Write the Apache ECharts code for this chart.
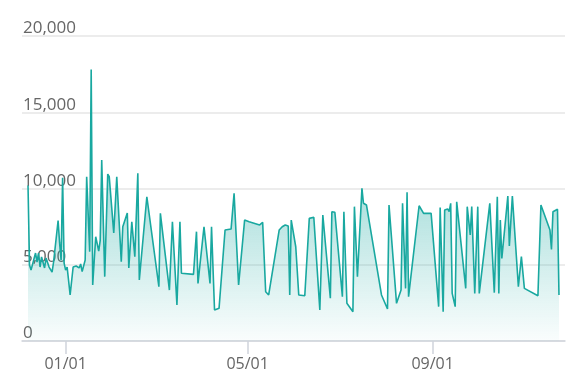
<!DOCTYPE html>
<html>
<head>
<meta charset="utf-8">
<script src="https://cdn.jsdelivr.net/npm/echarts@6/dist/echarts.min.js"></script>
<style>html,body{margin:0;padding:0;background:#fff;}#chart{width:581px;height:392px;}</style>
</head>
<body>
<div id="chart"></div>
<script>
const dates = [
  '2019-12-07','2019-12-08','2019-12-09','2019-12-10','2019-12-12','2019-12-13','2019-12-14','2019-12-15','2019-12-16','2019-12-18',
  '2019-12-19','2019-12-21','2019-12-23','2019-12-24','2019-12-27','2019-12-28','2019-12-29','2019-12-30','2019-12-31',
  '2020-01-01','2020-01-02','2020-01-04','2020-01-06','2020-01-07','2020-01-08','2020-01-10','2020-01-11','2020-01-12','2020-01-14',
  '2020-01-15','2020-01-17','2020-01-18','2020-01-19','2020-01-21','2020-01-23','2020-01-24','2020-01-25','2020-01-27','2020-01-29','2020-01-30',
  '2020-02-02','2020-02-04','2020-02-07','2020-02-08','2020-02-11','2020-02-12','2020-02-14','2020-02-16','2020-02-18','2020-02-19','2020-02-24',
  '2020-03-03','2020-03-04','2020-03-10','2020-03-12','2020-03-15','2020-03-17','2020-03-18','2020-03-26','2020-03-28','2020-03-29',
  '2020-04-02','2020-04-06','2020-04-07','2020-04-09','2020-04-12','2020-04-16','2020-04-20','2020-04-22','2020-04-25','2020-04-29',
  '2020-05-02','2020-05-09','2020-05-11','2020-05-13','2020-05-15','2020-05-22','2020-05-24','2020-05-26','2020-05-28','2020-05-29','2020-05-30',
  '2020-06-02','2020-06-04','2020-06-08','2020-06-11','2020-06-14','2020-06-18','2020-06-20','2020-06-25','2020-06-26','2020-06-28',
  '2020-07-03','2020-07-04','2020-07-06','2020-07-10','2020-07-11','2020-07-13','2020-07-16','2020-07-17','2020-07-19','2020-07-29',
  '2020-08-02','2020-08-03','2020-08-08','2020-08-11','2020-08-12','2020-08-14','2020-08-15','2020-08-16','2020-08-23','2020-08-26','2020-08-31',
  '2020-09-05','2020-09-06','2020-09-08','2020-09-09','2020-09-11','2020-09-12','2020-09-13','2020-09-14','2020-09-16','2020-09-17','2020-09-18',
  '2020-09-23','2020-09-24','2020-09-26','2020-09-27','2020-09-29',
  '2020-10-01','2020-10-02','2020-10-09','2020-10-10','2020-10-12','2020-10-14','2020-10-15','2020-10-16','2020-10-17','2020-10-21',
  '2020-10-22','2020-10-24','2020-10-25','2020-10-28','2020-10-30',
  '2020-11-01','2020-11-10','2020-11-12','2020-11-13','2020-11-18','2020-11-19','2020-11-20','2020-11-23','2020-11-24'
];
const values = [
  10200,4980,4650,4590,5770,5180,5770,4850,5510,4790,
  5440,4850,4520,5180,7900,6430,5300,10700,5110,
  4650,4850,3020,4850,4790,4920,4790,5050,4550,5310,
  10770,5860,17800,3670,6840,5900,6600,11870,4220,10950,10770,
  7080,10770,5200,7490,8390,4790,7820,5530,11000,4000,9460,
  3560,8370,3340,7820,2360,7820,4440,4370,7170,3780,
  7490,3780,7490,2030,2140,7280,7340,9690,3670,7930,
  7820,7610,7780,3230,3020,7280,7490,7610,7540,3020,7930,
  6180,3020,2970,8040,8110,2030,8260,2800,8480,8440,
  2910,8480,2470,1920,8810,4220,10010,9030,8920,3020,
  2100,8920,2470,3340,9030,3450,9750,2910,8870,8370,8370,
  2250,8760,1920,8590,8660,8480,9030,3120,2250,9130,9130,
  3450,8810,6950,8810,3120,
  8810,3120,9030,9070,3170,9460,3120,7930,5420,9510,
  6230,9510,9510,3560,5530,
  3450,2970,8920,8960,7280,6010,8480,8640,3020
];
const yTicks = [0, 5000, 10000, 15000, 20000];
const xTickDates = ['2020-01-01', '2020-05-01', '2020-09-01'];
const xMin = '2019-12-03';
const xMax = '2020-11-28';

const ts = d => +echarts.time.parse(d);
const xTickTs = xTickDates.map(ts);
const chart = echarts.init(document.getElementById('chart'), null, {renderer: 'canvas'});
const font = '"Open Sans", "Noto Sans", sans-serif';
const teal = '#19a8a0';
chart.setOption({
  animation: false,
  grid: {left: 22, right: 16, top: 36, bottom: 51, containLabel: false, outerBoundsMode: 'none'},
  xAxis: {
    type: 'value',
    min: ts(xMin),
    max: ts(xMax),
    scale: true,
    axisLine: {lineStyle: {color: '#d0d4dc', width: 1.5}},
    axisTick: {show: true, length: 13, lineStyle: {color: '#d0d4dc', width: 1.5}, customValues: xTickTs},
    axisLabel: {
      customValues: xTickTs,
      formatter: v => echarts.time.format(v, '{MM}/{dd}', false),
      color: '#666', fontSize: 16, fontFamily: font, margin: 15
    },
    splitLine: {show: false}
  },
  yAxis: {
    type: 'value',
    min: yTicks[0],
    max: yTicks[yTicks.length - 1],
    interval: 5000,
    axisLine: {show: false},
    axisTick: {show: false},
    axisLabel: {
      inside: true, margin: 1, verticalAlign: 'bottom', align: 'left',
      color: '#666', fontSize: 17, fontFamily: font, lineHeight: 15,
      formatter: v => v.toLocaleString('en-US')
    },
    splitLine: {lineStyle: {color: '#e6e6e6', width: 1.5}}
  },
  series: [{
    type: 'line',
    data: dates.map((d, i) => [ts(d), values[i]]),
    showSymbol: false,
    lineStyle: {color: teal, width: 1.6},
    itemStyle: {color: teal},
    areaStyle: {
      color: new echarts.graphic.LinearGradient(0, 0, 0, 1, [
        {offset: 0, color: 'rgba(25,168,160,0.9)'},
        {offset: 1, color: 'rgba(25,168,160,0.03)'}
      ])
    }
  }]
});
</script>
</body>
</html>
